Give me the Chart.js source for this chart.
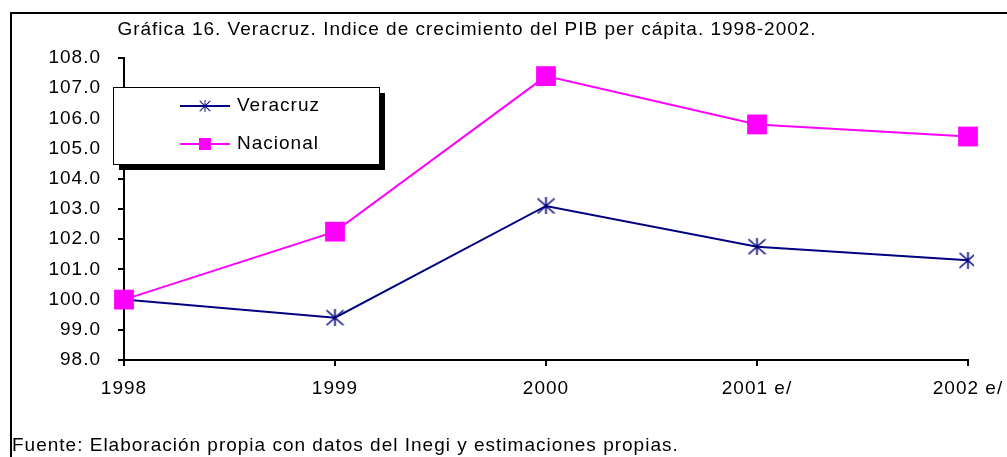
<!DOCTYPE html>
<html>
<head>
<meta charset="utf-8">
<script src="https://cdn.jsdelivr.net/npm/chart.js@4"></script>
<style>
  html, body { margin: 0; padding: 0; background: #fff; }
  #wrap { width: 1007px; height: 457px; }
</style>
</head>
<body>
<div id="wrap"><canvas id="pib-chart" width="1007" height="457"></canvas></div>
<script>
// Datos (índice, 1998 = 100)
const years = ['1998', '1999', '2000', '2001 e/', '2002 e/'];
const veracruz = [100.0, 99.4, 103.1, 101.75, 101.3];
const nacional = [100.0, 102.25, 107.4, 105.8, 105.4];
const yMin = 98;
const yMax = 108;
const yStep = 1;

const titleText = 'Gráfica 16. Veracruz. Indice de crecimiento del PIB per cápita. 1998-2002.';
const footerText = 'Fuente: Elaboración propia con datos del Inegi y estimaciones propias.';
const fontFamily = '"Liberation Sans", Arial, sans-serif';
const fontSize = 19;
const textColor = '#000';
const spacing = '1px';

/**
 * Marcador tipo asterisco (X con línea vertical), como en Excel
 */
function makeAsterisk(color) {
    const c = document.createElement('canvas');
    c.width = 19;
    c.height = 17;
    const ctx = c.getContext('2d');
    ctx.strokeStyle = color;
    ctx.lineWidth = 1.6;
    ctx.beginPath();
    ctx.moveTo(1, 1); ctx.lineTo(18, 16);
    ctx.moveTo(18, 1); ctx.lineTo(1, 16);
    ctx.moveTo(9.5, 0); ctx.lineTo(9.5, 17);
    ctx.stroke();
    return c;
}

const asterisk = makeAsterisk('#000080');

/**
 * Espaciado de letras algo más ancho, como en el original
 */
const spacingPlugin = {
    id: 'spacing',
    beforeLayout(chart) { chart.ctx.letterSpacing = spacing; },
    beforeDraw(chart) { chart.ctx.letterSpacing = spacing; }
};

/**
 * Marco, título, leyenda con sombra y nota de fuente
 */
const decorPlugin = {
    id: 'decor',
    afterDraw(chart) {
        const ctx = chart.ctx;
        ctx.save();
        ctx.letterSpacing = spacing;

        // marco exterior
        ctx.strokeStyle = '#000';
        ctx.lineWidth = 2;
        ctx.beginPath();
        ctx.moveTo(11, 470);
        ctx.lineTo(11, 13);
        ctx.lineTo(1020, 13);
        ctx.stroke();

        // título
        ctx.fillStyle = textColor;
        ctx.font = `${fontSize}px ${fontFamily}`;
        ctx.textAlign = 'center';
        ctx.textBaseline = 'middle';
        ctx.fillText(titleText, 467, 30);

        // fuente
        ctx.textAlign = 'left';
        ctx.fillText(footerText, 12, 446);

        // leyenda
        const bx = 113, by = 87, bw = 266, bh = 77;
        ctx.fillStyle = '#000';
        ctx.fillRect(bx + 6, by + 6, bw, bh);
        ctx.fillStyle = '#fff';
        ctx.fillRect(bx, by, bw, bh);
        ctx.strokeStyle = '#000';
        ctx.lineWidth = 1;
        ctx.strokeRect(bx + 0.5, by + 0.5, bw, bh);

        const rows = [106, 144];
        chart.data.datasets.forEach((ds, i) => {
            const y = rows[i];
            ctx.strokeStyle = ds.borderColor;
            ctx.lineWidth = 2;
            ctx.beginPath();
            ctx.moveTo(180, y);
            ctx.lineTo(230, y);
            ctx.stroke();
            if (ds.pointStyle === 'rect') {
                ctx.fillStyle = ds.pointBackgroundColor;
                ctx.fillRect(199, y - 6, 12, 12);
            } else {
                ctx.drawImage(ds.pointStyle, 205 - 6, y - 6, 12, 12);
            }
            ctx.fillStyle = textColor;
            ctx.font = `${fontSize}px ${fontFamily}`;
            ctx.textAlign = 'left';
            ctx.textBaseline = 'middle';
            ctx.fillText(ds.label, 237, y);
        });

        ctx.restore();
    }
};

const ctx = document.getElementById('pib-chart').getContext('2d');
new Chart(ctx, {
    type: 'line',
    data: {
        labels: years,
        datasets: [{
            label: 'Veracruz',
            data: veracruz,
            order: 1,
            borderColor: '#000080',
            borderWidth: 2,
            pointStyle: asterisk,
            pointBackgroundColor: '#000080',
            tension: 0
        }, {
            label: 'Nacional',
            data: nacional,
            order: 0,
            borderColor: '#FF00FF',
            borderWidth: 2,
            pointStyle: 'rect',
            pointRadius: 14,
            pointBackgroundColor: '#FF00FF',
            pointBorderColor: '#FF00FF',
            pointBorderWidth: 0,
            tension: 0
        }]
    },
    options: {
        responsive: false,
        animation: false,
        layout: { padding: { top: 58, right: 39, left: 0, bottom: 0 } },
        plugins: {
            legend: { display: false },
            title: { display: false },
            tooltip: { enabled: false }
        },
        scales: {
            x: {
                offset: false,
                afterFit: (scale) => {
                    scale.height = 97;
                    scale.paddingLeft = 0;
                    scale.paddingRight = 0;
                },
                grid: { drawOnChartArea: false, drawTicks: true, tickLength: 6, color: '#000', lineWidth: 2 },
                border: { display: true, color: '#000', width: 2 },
                ticks: { color: textColor, font: { family: fontFamily, size: fontSize }, padding: 11, maxRotation: 0, autoSkip: false }
            },
            y: {
                min: yMin,
                max: yMax,
                afterFit: (scale) => { scale.width = 124; },
                grid: { drawOnChartArea: false, drawTicks: true, tickLength: 6, color: '#000', lineWidth: 2 },
                border: { display: true, color: '#000', width: 2 },
                ticks: {
                    stepSize: yStep,
                    color: textColor,
                    font: { family: fontFamily, size: fontSize },
                    padding: 17,
                    callback: (value) => value.toFixed(1)
                }
            }
        }
    },
    plugins: [spacingPlugin, decorPlugin]
});
</script>
</body>
</html>
